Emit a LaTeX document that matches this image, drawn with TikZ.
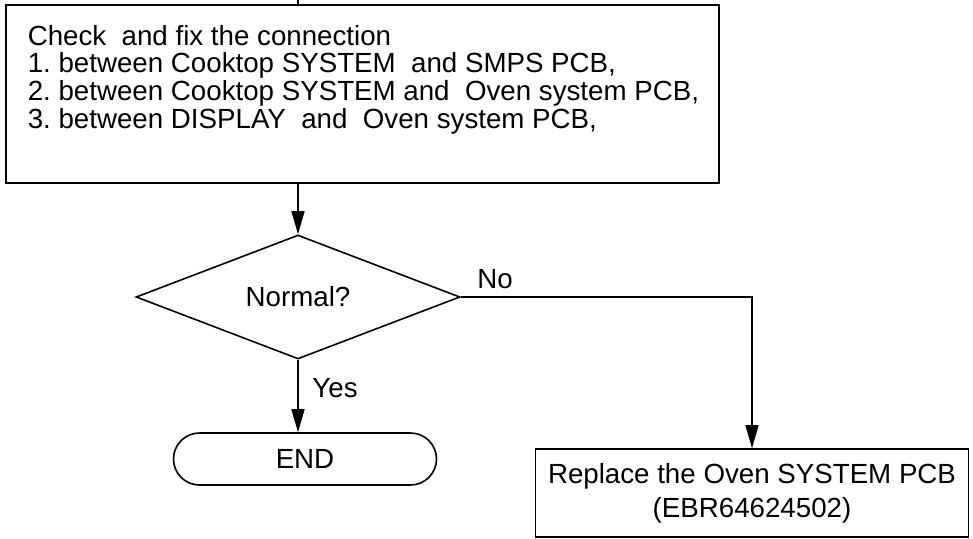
\documentclass[tikz,border=0pt]{standalone}
\usepackage{fontspec}
\setmainfont{Liberation Sans}
\usetikzlibrary{shapes.geometric,arrows.meta}
\frenchspacing
\begin{document}
\begin{tikzpicture}[x=1pt,y=-1pt, line width=1.6pt,
  every node/.style={font=\fontsize{27.7}{27.7}\selectfont},
  box/.style={draw, rectangle, inner sep=0pt},
  arr/.style={-{Triangle[length=23pt,width=13pt]}}]
\useasboundingbox (0,0) rectangle (973,538);
\node[box, anchor=north west, minimum width=713pt, minimum height=178pt] (chk) at (5,4) {};
\node[anchor=base west, align=left, inner sep=0pt] (chktxt) at (27,128.1)
  {Check~ and fix the connection\\
   1. between Cooktop SYSTEM~ and SMPS PCB,\\
   2. between Cooktop SYSTEM and~ Oven system PCB,\\
   3. between DISPLAY~ and~ Oven system PCB,};
\node[draw, diamond, aspect=2.6, inner sep=0pt, minimum width=324pt, minimum height=124pt] (dia) at (298,297) {Normal?};
\node[draw, rounded corners=26pt, minimum width=263pt, minimum height=52pt, inner sep=0pt] (end) at (305,459) {END};
\node[box, minimum width=433pt, minimum height=88pt, align=center,
  font=\fontsize{27.7}{34}\selectfont] (rep) at (752,493)
  {Replace the Oven SYSTEM PCB\\(EBR64624502)};
\coordinate (topin) at (298,0);
\draw (topin) -- (topin |- chk.north);
\draw[arr] (dia.north |- chk.south) -- (dia.north);
\draw[arr] (dia.east) -| (rep.north);
\draw[arr] (dia.south) -- (dia.south |- end.north);
\node[anchor=base] (no) at (495,288) {No};
\node[anchor=base] (yes) at (335,397) {Yes};
\end{tikzpicture}
\end{document}
